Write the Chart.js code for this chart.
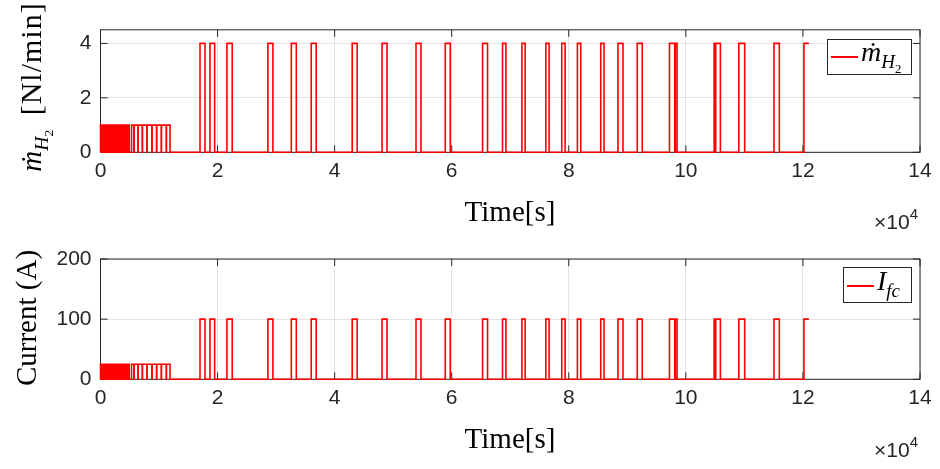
<!DOCTYPE html>
<html>
<head>
<meta charset="utf-8">
<script src="https://cdn.jsdelivr.net/npm/chart.js@4"></script>
<style>
  body { margin: 0; background: #fff; }
  #wrap { position: relative; width: 940px; height: 469px; overflow: hidden; }
  .pane { position: absolute; left: 0; width: 940px; }
  .tex { position: absolute; font-family: "Liberation Serif", "DejaVu Serif", serif; color: #000; white-space: nowrap; }
  .xlab { font-size: 29px; transform: translate(-50%, -50%); }
  .ylab { font-size: 29px; transform: translate(-50%, -50%) rotate(-90deg); }
  .exp { position: absolute; font-family: "Liberation Sans", Arial, sans-serif; font-size: 21px; color: #262626; white-space: nowrap; }
  .exp sup { font-size: 15px; position: relative; top: -2px; }
  .legend { position: absolute; background: #fff; border: 1px solid #262626; box-sizing: border-box; }
  .legend .swatch { position: absolute; height: 2px; background: #ff0000; }
  .legend .tex { font-size: 28px; font-style: italic; }
  sub { font-size: 68%; }
</style>
</head>
<body>
<div id="wrap">
  <div class="pane" style="top:0;height:235px"><canvas id="flowChart"></canvas></div>
  <div class="pane" style="top:235px;height:234px"><canvas id="currentChart"></canvas></div>

  <!-- axis labels -->
  <div class="tex ylab" style="left:35px;top:87px"><i>ṁ</i><sub><i>H</i><sub>2</sub></sub>&nbsp; <span style="font-size:30px;letter-spacing:1px">[Nl/min]</span></div>
  <div class="tex xlab" style="left:510px;top:211px">Time[s]</div>
  <div class="exp" style="right:22px;top:207px">×10<sup>4</sup></div>

  <div class="tex ylab" style="left:26px;top:318px">Current (A)</div>
  <div class="tex xlab" style="left:510px;top:438px">Time[s]</div>
  <div class="exp" style="right:22px;top:435px">×10<sup>4</sup></div>

  <!-- legends -->
  <div class="legend" style="left:827px;top:39px;width:85px;height:36px">
    <div class="swatch" style="left:3px;width:27px;top:16px"></div>
    <div class="tex" style="left:33px;top:-4px"><i>ṁ</i><sub><i>H</i><sub style="font-style:normal">2</sub></sub></div>
  </div>
  <div class="legend" style="left:843px;top:267px;width:69px;height:36px">
    <div class="swatch" style="left:3px;width:27px;top:17px"></div>
    <div class="tex" style="left:33px;top:-3px"><i>I</i><sub><i>fc</i></sub></div>
  </div>
</div>

<script>
// Pulse on/off times in seconds.
// Low pulses: dense burst at the start, then slower low-level pulses.
const lowPulses = [
  [0, 50], [100, 150], [200, 250], [300, 350], [400, 450],
  [500, 550], [600, 650], [700, 750], [800, 850], [900, 950],
  [1000, 1050], [1100, 1150], [1200, 1250], [1300, 1350], [1400, 1450],
  [1500, 1550], [1600, 1650], [1700, 1750], [1800, 1850], [1900, 1950],
  [2000, 2050], [2100, 2150], [2200, 2250], [2300, 2350], [2400, 2450],
  [2500, 2550], [2600, 2650], [2700, 2750], [2800, 2850], [2900, 2950],
  [3000, 3050], [3100, 3150], [3200, 3250], [3300, 3350], [3400, 3450],
  [3500, 3550], [3600, 3650], [3700, 3750], [3800, 3850], [3900, 3950],
  [4000, 4050], [4100, 4150], [4200, 4250], [4300, 4350], [4400, 4450],
  [4500, 4550], [4600, 4650], [4700, 4750], [4800, 4900],
  [5300, 5700], [5760, 6380], [6430, 7130], [7180, 7920], [7970, 8770],
  [8820, 9570], [9620, 10370], [10420, 11220], [11270, 11880]
];

// High pulses; the last one is still on when the trace ends.
const highPulses = [
  [17000, 17850], [18700, 19500], [21600, 22500], [28600, 29450],
  [32600, 33450], [36000, 36850], [43000, 43850], [48100, 48950],
  [53900, 54750], [58900, 59750], [65270, 66120], [68680, 69260],
  [71990, 72550], [76080, 76640], [78800, 79370], [81470, 82050],
  [85460, 86020], [88400, 89260], [91700, 92550], [97200, 98100],
  [98200, 98500], [104830, 105000], [105100, 105900], [109050, 110050],
  [115050, 115970], [120170, 121020]
];

// Levels: [low, high]
const flowLevels = [1, 4];        // Nl/min
const currentLevels = [25, 100];  // A

// axis ticks
const timeTicks = [0, 20000, 40000, 60000, 80000, 100000, 120000, 140000];
const flowTicks = [0, 2, 4];
const currentTicks = [0, 100, 200];

// Build the step trace from the pulse lists.
function buildTrace(levels) {
  const events = [];
  lowPulses.forEach(p => events.push([p[0], p[1], levels[0]]));
  highPulses.forEach(p => events.push([p[0], p[1], levels[1]]));
  events.sort((a, b) => a[0] - b[0]);
  const pts = [];
  events.forEach((e, i) => {
    pts.push({ x: e[0], y: 0 });
    pts.push({ x: e[0], y: e[2] });
    pts.push({ x: e[1], y: e[2] });
    if (i < events.length - 1) pts.push({ x: e[1], y: 0 });
  });
  return pts;
}

const axisColor = "#262626";
const gridColor = "rgba(38,38,38,0.13)";
const tickFont = { family: "'Liberation Sans', Arial, sans-serif", size: 21 };

// Draws the full axes box and the inward tick marks on all four sides.
const boxTicks = {
  id: "boxTicks",
  beforeDatasetsDraw(chart) {
    const { ctx, chartArea: a, scales } = chart;
    ctx.save();
    ctx.strokeStyle = axisColor;
    ctx.lineWidth = 1;
    ctx.strokeRect(a.left, a.top, a.right - a.left, a.bottom - a.top);
    ctx.beginPath();
    scales.x.ticks.forEach(t => {
      const px = scales.x.getPixelForValue(t.value);
      ctx.moveTo(px, a.bottom); ctx.lineTo(px, a.bottom - 7);
      ctx.moveTo(px, a.top); ctx.lineTo(px, a.top + 7);
    });
    scales.y.ticks.forEach(t => {
      const py = scales.y.getPixelForValue(t.value);
      ctx.moveTo(a.left, py); ctx.lineTo(a.left + 7, py);
      ctx.moveTo(a.right, py); ctx.lineTo(a.right - 7, py);
    });
    ctx.stroke();
    ctx.restore();
  }
};

function makeChart(id, levels, yMax, yTicks, top, bottomHeight) {
  return new Chart(document.getElementById(id), {
    type: "line",
    data: {
      datasets: [{
        data: buildTrace(levels),
        borderColor: "#ff0000",
        borderWidth: 1.6,
        pointRadius: 0,
        stepped: true, // corners are already in the data; this keeps every point drawn
        fill: false,
        clip: false
      }]
    },
    options: {
      responsive: true,
      maintainAspectRatio: false,
      animation: false,
      layout: { padding: { top: top, right: 20, left: 0, bottom: 0 } },
      plugins: { legend: { display: false }, tooltip: { enabled: false } },
      scales: {
        x: {
          type: "linear",
          min: 0,
          max: 140000,
          afterBuildTicks: s => { s.ticks = timeTicks.map(v => ({ value: v })); },
          afterFit: s => { s.height = bottomHeight; },
          ticks: { callback: v => v / 10000, font: tickFont, color: axisColor, padding: 6, maxRotation: 0 },
          grid: { color: gridColor, drawTicks: false },
          border: { display: false }
        },
        y: {
          min: 0,
          max: yMax,
          afterBuildTicks: s => { s.ticks = yTicks.map(v => ({ value: v })); },
          afterFit: s => { s.width = 100.5; },
          ticks: { font: tickFont, color: axisColor, padding: 9 },
          grid: { color: gridColor, drawTicks: false },
          border: { display: false }
        }
      }
    },
    plugins: [boxTicks]
  });
}

makeChart("flowChart", flowLevels, 4.5, flowTicks, 29.8, 82.7);
makeChart("currentChart", currentLevels, 200, currentTicks, 24, 89.7);
</script>
</body>
</html>
